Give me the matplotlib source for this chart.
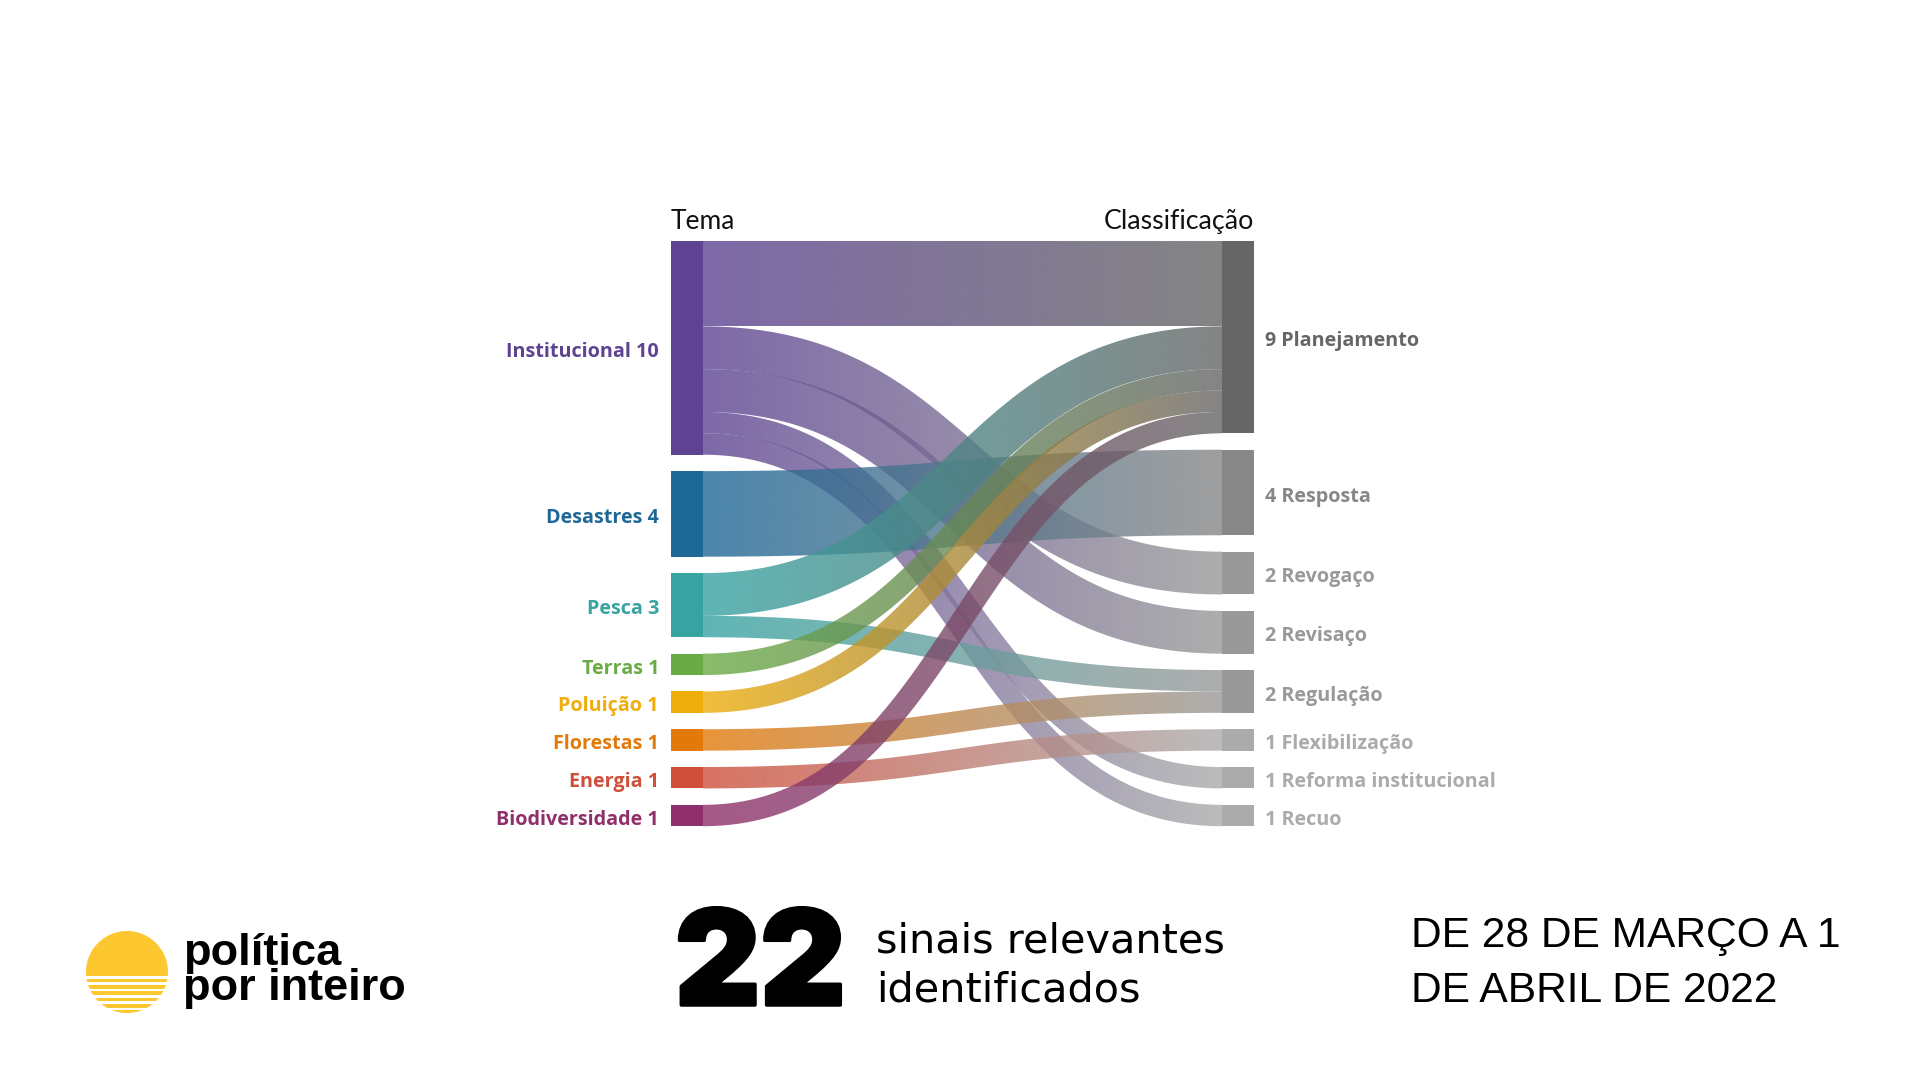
import numpy as np
import matplotlib
matplotlib.use('Agg')
import matplotlib.pyplot as plt
from matplotlib.path import Path
from matplotlib.patches import PathPatch, Circle, Rectangle
from matplotlib.colors import to_rgb
import matplotlib.patheffects as pe

# ---------------- data ----------------
sources = ['Institucional', 'Desastres', 'Pesca', 'Terras', 'Poluição',
           'Florestas', 'Energia', 'Biodiversidade']
source_colors = ['#5D4391', '#1E6896', '#37A4A2', '#6BAB45', '#EEAD0B',
                 '#E27A0A', '#CF4F3B', '#8F2F6B']
targets = ['Planejamento', 'Resposta', 'Revogaço', 'Revisaço', 'Regulação',
           'Flexibilização', 'Reforma institucional', 'Recuo']
target_colors = ['#666666', '#878787', '#999999', '#999999', '#999999',
                 '#ABABAB', '#ABABAB', '#ABABAB']
link_source = ['Institucional', 'Institucional', 'Institucional', 'Institucional',
               'Institucional', 'Desastres', 'Pesca', 'Pesca', 'Terras',
               'Poluição', 'Florestas', 'Energia', 'Biodiversidade']
link_target = ['Planejamento', 'Revogaço', 'Revisaço', 'Reforma institucional',
               'Recuo', 'Resposta', 'Planejamento', 'Regulação', 'Planejamento',
               'Planejamento', 'Regulação', 'Flexibilização', 'Planejamento']
link_value = [4, 2, 2, 1, 1, 4, 2, 1, 1, 1, 1, 1, 1]

header_left = 'Tema'
header_right = 'Classificação'
total_label = '22'
total_text = ['sinais relevantes', 'identificados']
date_text = ['DE 28 DE MARÇO A 1', 'DE ABRIL DE 2022']
logo_text = ['política', 'por inteiro']

# ---------------- layout ----------------
TOP, BOTTOM = 240.8, 826.2
GAP = 16.4
LX0, LX1 = 671, 703
RX0, RX1 = 1222, 1254
LINK_ALPHA = 0.8

fig = plt.figure(figsize=(19.2, 10.8), dpi=100)
ax = fig.add_axes([0, 0, 1, 1])
ax.set_xlim(0, 1920)
ax.set_ylim(1080, 0)
ax.axis('off')

src_val = {s: 0 for s in sources}
tgt_val = {t: 0 for t in targets}
for s, t, v in zip(link_source, link_target, link_value):
    src_val[s] += v
    tgt_val[t] += v
total = sum(link_value)


def stack(names, vals):
    unit = (BOTTOM - TOP - GAP * (len(names) - 1)) / total
    pos = {}
    y = TOP
    for n in names:
        h = vals[n] * unit
        pos[n] = (y, y + h)
        y += h + GAP
    return pos, unit


spos, unit = stack(sources, src_val)
tpos, _ = stack(targets, tgt_val)

s_off = {s: spos[s][0] for s in sources}
t_off = {t: tpos[t][0] for t in targets}
links = list(zip(link_source, link_target, link_value))
s_y, t_y = {}, {}
order_src = sorted(range(len(links)),
                   key=lambda i: (sources.index(links[i][0]), targets.index(links[i][1])))
for i in order_src:
    s, t, v = links[i]
    s_y[i] = s_off[s]
    s_off[s] += v * unit
order_tgt = sorted(range(len(links)),
                   key=lambda i: (targets.index(links[i][1]), sources.index(links[i][0])))
for i in order_tgt:
    s, t, v = links[i]
    t_y[i] = t_off[t]
    t_off[t] += v * unit

xm = (LX1 + RX0) / 2
tt = np.linspace(0, 1, 400)
for i in range(len(links)):
    s, t, v = links[i]
    w = v * unit
    y0 = s_y[i] + w / 2
    y1 = t_y[i] + w / 2
    P0 = np.array([LX1, y0]); P1 = np.array([xm, y0])
    P2 = np.array([xm, y1]); P3 = np.array([RX0, y1])
    T = tt[:, None]
    B = ((1 - T) ** 3) * P0 + 3 * ((1 - T) ** 2) * T * P1 + 3 * (1 - T) * T ** 2 * P2 + T ** 3 * P3
    D = 3 * ((1 - T) ** 2) * (P1 - P0) + 6 * (1 - T) * T * (P2 - P1) + 3 * T ** 2 * (P3 - P2)
    D = D / np.linalg.norm(D, axis=1)[:, None]
    N = np.column_stack([-D[:, 1], D[:, 0]])
    upper = B - N * w / 2
    lower = B + N * w / 2
    verts = np.vstack([upper, lower[::-1], upper[:1]])
    codes = [Path.MOVETO] + [Path.LINETO] * (len(verts) - 2) + [Path.CLOSEPOLY]
    patch = PathPatch(Path(verts, codes), fc='none', ec='none', transform=ax.transData)
    ax.add_patch(patch)
    c0 = np.array(to_rgb(source_colors[sources.index(s)]))
    c1 = np.array(to_rgb(target_colors[targets.index(t)]))
    g = np.linspace(0, 1, 256)[:, None]
    cols = (1 - g) * c0 + g * c1
    img = np.concatenate([cols, np.full((256, 1), LINK_ALPHA)], axis=1)[None, :, :]
    im = ax.imshow(img, extent=(LX1, RX0, BOTTOM + 60, TOP - 60), aspect='auto',
                   interpolation='bilinear', zorder=2)
    im.set_clip_path(patch)

ax.set_xlim(0, 1920)
ax.set_ylim(1080, 0)

LABEL_FONT = 'Open Sans'
LABEL_SIZE = 14.2
for s, c in zip(sources, source_colors):
    y0, y1 = spos[s]
    ax.add_patch(Rectangle((LX0, y0), LX1 - LX0, y1 - y0, fc=c, ec='none', zorder=3))
    ax.text(LX0 - 12, (y0 + y1) / 2 + 9.2, f'{s} {src_val[s]}', ha='right', va='baseline',
            color=c, fontsize=LABEL_SIZE, fontweight='bold', family=LABEL_FONT, zorder=4)
for t, c in zip(targets, target_colors):
    y0, y1 = tpos[t]
    ax.add_patch(Rectangle((RX0, y0), RX1 - RX0, y1 - y0, fc=c, ec='none', zorder=3))
    ax.text(RX1 + 11, (y0 + y1) / 2 + 9.2, f'{tgt_val[t]} {t}', ha='left', va='baseline',
            color=c, fontsize=LABEL_SIZE, fontweight='bold', family=LABEL_FONT, zorder=4)

ax.text(LX0, TOP - 12, header_left, ha='left', va='baseline', fontsize=19,
        family='Lato', color='#111111')
ax.text(RX1, TOP - 12, header_right, ha='right', va='baseline', fontsize=19.3,
        family='Lato', color='#111111')

# ---------------- footer ----------------
ax.add_patch(Circle((127, 972), 41, fc='#FDC82F', ec='none', zorder=3))
for ys in 976 + 6.3 * np.arange(6):
    ax.add_patch(Rectangle((80, ys), 95, 2.7, fc='white', ec='none', zorder=4))
ax.text(183, 1000, '\n'.join(logo_text), ha='left', va='baseline', fontsize=32.5,
        fontweight='bold', family='Liberation Sans', color='black', linespacing=0.82)

ax.text(675, 1005, total_label, ha='left', va='baseline', fontsize=95,
        fontweight='black', family='Inter', color='black',
        path_effects=[pe.withStroke(linewidth=2.5, foreground='black')])
ax.text(876, 1001.7, '\n'.join(total_text), ha='left', va='baseline', fontsize=29.8,
        family='DejaVu Sans', color='black', linespacing=1.30)

ax.text(1411, 1001.7, '\n'.join(date_text), ha='left', va='baseline', fontsize=30.6,
        family='Liberation Sans', color='black', linespacing=1.49)

fig.savefig('out.png', dpi=100, facecolor='white')
